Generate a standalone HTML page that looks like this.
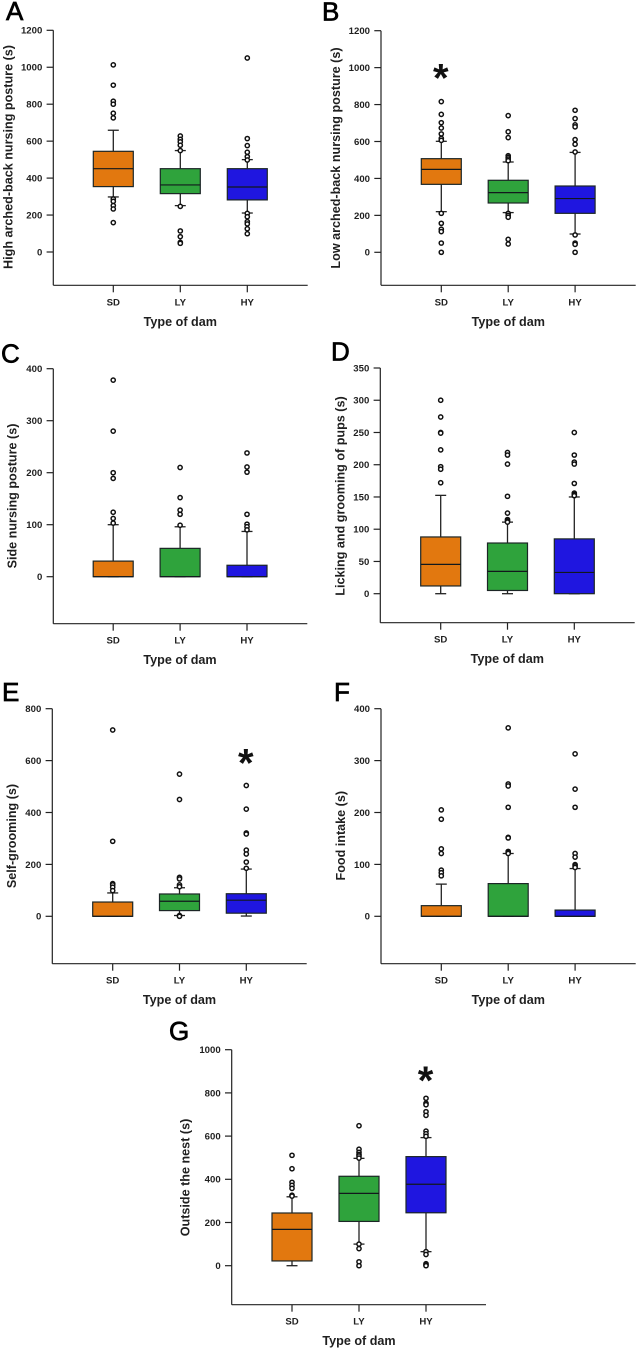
<!DOCTYPE html>
<html lang="en">
<head>
<meta charset="utf-8">
<title>Maternal behaviour box plots by type of dam</title>
<style>
html,body{margin:0;padding:0;background:#fff;}
svg{display:block;filter:blur(.3px);}
text{font-family:"Liberation Sans",sans-serif;fill:#1f1f1f;}
.tk{font-size:9.6px;font-weight:700;}
.ttl{font-size:12.6px;font-weight:700;}
.ltr{font-size:26px;font-weight:400;fill:#000;stroke:#000;stroke-width:.7px;}
</style>
</head>
<body>
<svg id="fig" xmlns="http://www.w3.org/2000/svg" width="638" height="1351" viewBox="0 0 638 1351">
<rect x="0" y="0" width="638" height="1351" fill="#fff"/>
<g id="panel-a">
<text class="ltr" x="6" y="20">A</text>
<text class="ttl" text-anchor="middle" transform="translate(12.5,157) rotate(-90)">High arched-back nursing posture (s)</text>
<text class="ttl" text-anchor="middle" x="180.3" y="326">Type of dam</text>
</g>
<g id="panel-b">
<text class="ltr" x="322" y="20.5">B</text>
<text class="ttl" text-anchor="middle" transform="translate(340,158) rotate(-90)">Low arched-back nursing posture (s)</text>
<text class="ttl" text-anchor="middle" x="508.3" y="326">Type of dam</text>
</g>
<g id="panel-c">
<text class="ltr" x="1" y="362.5">C</text>
<text class="ttl" text-anchor="middle" transform="translate(16.5,496) rotate(-90)">Side nursing posture (s)</text>
<text class="ttl" text-anchor="middle" x="180" y="664">Type of dam</text>
</g>
<g id="panel-d">
<text class="ltr" x="331" y="360.5">D</text>
<text class="ttl" text-anchor="middle" transform="translate(344.5,496) rotate(-90)">Licking and grooming of pups (s)</text>
<text class="ttl" text-anchor="middle" x="507.3" y="663">Type of dam</text>
</g>
<g id="panel-e">
<text class="ltr" x="2" y="701">E</text>
<text class="ttl" text-anchor="middle" transform="translate(16,836) rotate(-90)">Self-grooming (s)</text>
<text class="ttl" text-anchor="middle" x="179.5" y="1004">Type of dam</text>
</g>
<g id="panel-f">
<text class="ltr" x="334" y="701">F</text>
<text class="ttl" text-anchor="middle" transform="translate(345,835.7) rotate(-90)">Food intake (s)</text>
<text class="ttl" text-anchor="middle" x="508.3" y="1004">Type of dam</text>
</g>
<g id="panel-g">
<text class="ltr" x="169" y="1040">G</text>
<text class="ttl" text-anchor="middle" transform="translate(189.5,1177.5) rotate(-90)">Outside the nest (s)</text>
<text class="ttl" text-anchor="middle" x="359" y="1345">Type of dam</text>
</g>
</svg>
<script>
const categories = ['SD', 'LY', 'HY'];
const boxColors = ['#E2780F', '#2FA33C', '#1F16E0'];

const aTicks = [0, 200, 400, 600, 800, 1000, 1200];
const aQ1 = [354, 316, 282];
const aMedian = [451, 363, 352];
const aQ3 = [545, 451, 451];
const aWhiskerLow = [298, 251, 211];
const aWhiskerHigh = [659, 549, 500];
const aOutliersSD = [1013, 903, 816, 800, 751, 726, 287, 274, 251, 233, 159];
const aOutliersLY = [628, 610, 596, 578, 549, 247, 114, 83, 52, 47];
const aOutliersHY = [1050, 614, 576, 540, 516, 498, 209, 191, 164, 152, 126, 99];
const aStars = [null, null, null];

const bTicks = [0, 200, 400, 600, 800, 1000, 1200];
const bQ1 = [368, 267, 211];
const bMedian = [449, 323, 291];
const bQ3 = [507, 390, 359];
const bWhiskerLow = [220, 215, 99];
const bWhiskerHigh = [601, 489, 541];
const bOutliersSD = [816, 747, 702, 673, 641, 617, 606, 211, 157, 125, 112, 50, 0];
const bOutliersLY = [740, 653, 621, 523, 514, 505, 496, 211, 200, 190, 70, 45];
const bOutliersHY = [769, 724, 690, 679, 610, 585, 543, 94, 50, 43, 0];
const bStars = [977, null, null];

const cTicks = [0, 100, 200, 300, 400];
const cQ1 = [0, 0, 0];
const cMedian = [0, 0, 0];
const cQ3 = [30, 54.5, 22];
const cWhiskerLow = [0, 0, 0];
const cWhiskerHigh = [100, 96, 87];
const cOutliersSD = [378, 280, 200, 189, 124, 112, 103];
const cOutliersLY = [210, 152, 128, 120, 99];
const cOutliersHY = [238, 211, 201, 120, 101, 96, 90];
const cStars = [null, null, null];

const dTicks = [0, 50, 100, 150, 200, 250, 300, 350];
const dQ1 = [12, 5, 0];
const dMedian = [45.5, 34.6, 33];
const dQ3 = [88, 78.6, 85];
const dWhiskerLow = [0, 0, 0];
const dWhiskerHigh = [152.5, 111, 150];
const dOutliersSD = [300, 274, 250, 249, 223, 197, 193, 172];
const dOutliersLY = [219, 215, 201, 151, 125, 115, 113, 111];
const dOutliersHY = [250, 215, 204, 201, 171, 156, 154, 152];
const dStars = [null, null, null];

const eTicks = [0, 200, 400, 600, 800];
const eQ1 = [0, 22, 12];
const eMedian = [0, 58, 62];
const eQ3 = [55, 86, 87];
const eWhiskerLow = [0, 3, 1];
const eWhiskerHigh = [90, 110, 182];
const eOutliersSD = [718, 289, 126, 121, 112, 99];
const eOutliersLY = [548, 450, 150, 144, 121, 114, 3, 0];
const eOutliersHY = [504, 413, 321, 317, 255, 240, 209, 185];
const eStars = [null, null, 613];

const fTicks = [0, 100, 200, 300, 400];
const fQ1 = [0, 0, 0];
const fMedian = [0, 0, 0];
const fQ3 = [20.5, 63, 12];
const fWhiskerLow = [0, 0, 0];
const fWhiskerHigh = [62, 121, 92];
const fOutliersSD = [205, 187, 130, 121, 89, 84, 78];
const fOutliersLY = [363, 255, 251, 210, 152, 151, 125, 123, 121];
const fOutliersHY = [313, 245, 210, 121, 114, 99.5, 97, 94];
const fStars = [null, null, null];

const gTicks = [0, 200, 400, 600, 800, 1000];
const gQ1 = [22, 205, 245];
const gMedian = [168, 335, 377];
const gQ3 = [244, 414, 505];
const gWhiskerLow = [0, 100, 65];
const gWhiskerHigh = [319, 497, 593];
const gOutliersSD = [511, 449, 386, 372, 358, 326, 322];
const gOutliersLY = [648, 539, 525, 515, 508, 498, 100, 79, 18, 0];
const gOutliersHY = [775, 752, 745, 713, 696, 623, 611, 599, 65, 52, 9, 3, 0];
const gStars = [null, null, 885];

const SVG_NS = 'http://www.w3.org/2000/svg';

function mk(tag, parent, attrs) {
  const el = document.createElementNS(SVG_NS, tag);
  for (const k in attrs) el.setAttribute(k, attrs[k]);
  parent.appendChild(el);
  return el;
}

function drawPanel(id, frame, ticks, q1, median, q3, wLow, wHigh, outliers, stars) {
  const root = document.getElementById('panel-' + id);
  const maxTick = Math.max.apply(null, ticks);
  const yScale = function (v) { return frame.y0 - v * (frame.y0 - frame.yTop) / maxTick; };
  const xScale = function (i) { return frame.x0 + i * frame.step; };
  const ink = '#222';

  const yAxis = mk('line', root, {x1: frame.axisX, x2: frame.axisX, y1: yScale(maxTick), y2: frame.bottom, stroke: ink, 'stroke-width': 1.2});
  
  
  const xAxis = mk('line', root, {x1: frame.axisX, x2: frame.right, y1: frame.bottom, y2: frame.bottom, stroke: ink, 'stroke-width': 1.2});
  
  

  ticks.forEach(function (t) {
    const tick = mk('line', root, {x1: frame.axisX - 6.7, x2: frame.axisX, y1: yScale(t), y2: yScale(t), stroke: ink, 'stroke-width': 1.2});
    
    
    const label = mk('text', root, {class: 'tk', x: frame.axisX - 11, y: yScale(t) + 3.4, 'text-anchor': 'end'});
    label.textContent = String(t);
    
    
  });

  categories.forEach(function (cat, i) {
    const x = xScale(i);
    const key = id + '-' + cat.toLowerCase();
    const tick = mk('line', root, {x1: x, x2: x, y1: frame.bottom, y2: frame.bottom + 7, stroke: ink, 'stroke-width': 1.2});
    
    
    const label = mk('text', root, {class: 'tk', x: x, y: frame.bottom + 20, 'text-anchor': 'middle'});
    label.textContent = cat;
    
    

    const whisker = mk('line', root, {x1: x, x2: x, y1: yScale(wHigh[i]), y2: yScale(wLow[i]), stroke: ink, 'stroke-width': 1.3});
    
    
    const capHigh = mk('line', root, {x1: x - 5.5, x2: x + 5.5, y1: yScale(wHigh[i]), y2: yScale(wHigh[i]), stroke: ink, 'stroke-width': 1.3});
    
    
    const capLow = mk('line', root, {x1: x - 5.5, x2: x + 5.5, y1: yScale(wLow[i]), y2: yScale(wLow[i]), stroke: ink, 'stroke-width': 1.3});
    
    

    const box = mk('rect', root, {x: x - 20, y: yScale(q3[i]), width: 40, height: yScale(q1[i]) - yScale(q3[i]), fill: boxColors[i], stroke: '#1c2626', 'stroke-width': 1.2});
    
    
    const med = mk('line', root, {x1: x - 20, x2: x + 20, y1: yScale(median[i]), y2: yScale(median[i]), stroke: '#12181c', 'stroke-width': 1.2});
    
    

    outliers[i].forEach(function (v) {
      const dot = mk('circle', root, {cx: x, cy: yScale(v), r: 2.1, fill: '#fff', stroke: '#111', 'stroke-width': 1.5});
      
      
    });

    if (stars[i] !== null) {
      const star = mk('text', root, {x: x - 0.5, y: yScale(stars[i]) + 19.4, 'text-anchor': 'middle', style: 'font-size:40px;font-weight:700;fill:#111'});
      star.textContent = '*';
      
      
    }
  });
}

drawPanel('a', {axisX: 53.3, yTop: 30.3, y0: 252, bottom: 285.3, right: 307.7, x0: 113.3, step: 67},
  aTicks, aQ1, aMedian, aQ3, aWhiskerLow, aWhiskerHigh, [aOutliersSD, aOutliersLY, aOutliersHY], aStars);
drawPanel('b', {axisX: 381, yTop: 30.7, y0: 252.3, bottom: 285.3, right: 635.7, x0: 441.3, step: 66.9},
  bTicks, bQ1, bMedian, bQ3, bWhiskerLow, bWhiskerHigh, [bOutliersSD, bOutliersLY, bOutliersHY], bStars);
drawPanel('c', {axisX: 53.3, yTop: 368.7, y0: 576.7, bottom: 623.7, right: 307.3, x0: 113.2, step: 66.9},
  cTicks, cQ1, cMedian, cQ3, cWhiskerLow, cWhiskerHigh, [cOutliersSD, cOutliersLY, cOutliersHY], cStars);
drawPanel('d', {axisX: 380.3, yTop: 368, y0: 593.7, bottom: 622.7, right: 634.7, x0: 440.7, step: 66.8},
  dTicks, dQ1, dMedian, dQ3, dWhiskerLow, dWhiskerHigh, [dOutliersSD, dOutliersLY, dOutliersHY], dStars);
drawPanel('e', {axisX: 52.3, yTop: 708.7, y0: 916.3, bottom: 963.7, right: 306.7, x0: 112.7, step: 66.8},
  eTicks, eQ1, eMedian, eQ3, eWhiskerLow, eWhiskerHigh, [eOutliersSD, eOutliersLY, eOutliersHY], eStars);
drawPanel('f', {axisX: 381, yTop: 708.7, y0: 916.3, bottom: 963.7, right: 635.7, x0: 441.3, step: 66.9},
  fTicks, fQ1, fMedian, fQ3, fWhiskerLow, fWhiskerHigh, [fOutliersSD, fOutliersLY, fOutliersHY], fStars);
drawPanel('g', {axisX: 231.7, yTop: 1049.7, y0: 1265.7, bottom: 1304.7, right: 486, x0: 292, step: 67},
  gTicks, gQ1, gMedian, gQ3, gWhiskerLow, gWhiskerHigh, [gOutliersSD, gOutliersLY, gOutliersHY], gStars);
</script>
</body>
</html>
